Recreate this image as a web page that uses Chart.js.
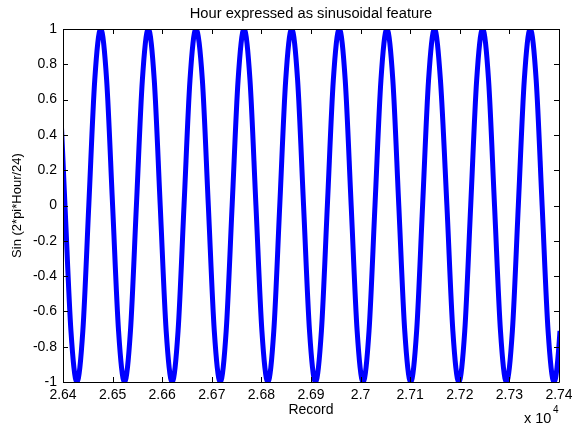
<!DOCTYPE html>
<html>
<head>
<meta charset="utf-8">
<script src="https://cdn.jsdelivr.net/npm/chart.js@4.4.0/dist/chart.umd.min.js"></script>
<style>
    html, body { margin: 0; padding: 0; background: #fff; }
    #wrap { width: 572px; height: 426px; position: relative; }
</style>
</head>
<body>
<div id="wrap"><canvas id="sinChart"></canvas></div>
<script>
// Hour expressed as sinusoidal feature - records 26400 .. 27400

// key points (troughs, crossings, peaks and in between)
const records = [
    26380, 26392, 26404, 26416,
    26428, 26440, 26452, 26464, 26476, 26488, 26500, 26512,
    26524, 26536, 26548, 26560, 26572, 26584, 26596, 26608,
    26620, 26632, 26644, 26656, 26668, 26681, 26693, 26705,
    26717, 26729, 26741, 26753, 26765, 26777, 26789, 26801,
    26813, 26825, 26837, 26849, 26861, 26873, 26885, 26897,
    26909, 26921, 26933, 26945, 26957, 26969, 26981, 26993,
    27005, 27017, 27029, 27041, 27053, 27065, 27077, 27089,
    27101, 27113, 27125, 27137, 27149, 27161, 27174, 27186,
    27198, 27210, 27222, 27234, 27246, 27258, 27270, 27282,
    27294, 27306, 27318, 27330, 27342, 27354, 27366, 27378,
    27390, 27402, 27414
];
const sinHour = [
    1, 0.71, 0, -0.71,
    -1, -0.71, 0, 0.71, 1, 0.71, 0, -0.71,
    -1, -0.71, 0, 0.71, 1, 0.71, 0, -0.71,
    -1, -0.71, 0, 0.71, 1, 0.71, 0, -0.71,
    -1, -0.71, 0, 0.71, 1, 0.71, 0, -0.71,
    -1, -0.71, 0, 0.71, 1, 0.71, 0, -0.71,
    -1, -0.71, 0, 0.71, 1, 0.71, 0, -0.71,
    -1, -0.71, 0, 0.71, 1, 0.71, 0, -0.71,
    -1, -0.71, 0, 0.71, 1, 0.71, 0, -0.71,
    -1, -0.71, 0, 0.71, 1, 0.71, 0, -0.71,
    -1, -0.71, 0, 0.71, 1, 0.71, 0, -0.71,
    -1, -0.71, 0
];

const xTicks = [26400, 26500, 26600, 26700, 26800, 26900, 27000, 27100, 27200, 27300, 27400];
const xTickLabels = ['2.64', '2.65', '2.66', '2.67', '2.68', '2.69', '2.7', '2.71', '2.72', '2.73', '2.74'];
const yTicks = [-1, -0.8, -0.6, -0.4, -0.2, 0, 0.2, 0.4, 0.6, 0.8, 1];
const yTickLabels = ['-1', '-0.8', '-0.6', '-0.4', '-0.2', '0', '0.2', '0.4', '0.6', '0.8', '1'];

const chartTitle = 'Hour expressed as sinusoidal feature';
const xTitle = 'Record';
const yTitle = 'Sin (2*pi*Hour/24)';

const FONT = '"Liberation Sans", Arial, sans-serif';

// MATLAB style box: frame, inward ticks on all sides, title and exponent
const matlabBox = {
    id: 'matlabBox',
    afterDraw(chart) {
        const ctx = chart.ctx;
        const a = chart.chartArea;
        const xs = chart.scales.x;
        const ys = chart.scales.y;
        const tl = 5;
        ctx.save();
        ctx.strokeStyle = '#000';
        ctx.lineWidth = 1;
        ctx.beginPath();
        ctx.rect(Math.round(a.left) + 0.5, Math.round(a.top) + 0.5,
                 Math.round(a.right - a.left), Math.round(a.bottom - a.top));
        xTicks.forEach(v => {
            const px = Math.round(xs.getPixelForValue(v)) + 0.5;
            ctx.moveTo(px, a.bottom); ctx.lineTo(px, a.bottom - tl);
            ctx.moveTo(px, a.top); ctx.lineTo(px, a.top + tl);
        });
        yTicks.forEach(v => {
            const py = Math.round(ys.getPixelForValue(v)) + 0.5;
            ctx.moveTo(a.left, py); ctx.lineTo(a.left + tl, py);
            ctx.moveTo(a.right, py); ctx.lineTo(a.right - tl, py);
        });
        ctx.stroke();

        ctx.fillStyle = '#000';
        ctx.font = '14.7px ' + FONT;
        ctx.textAlign = 'center';
        ctx.textBaseline = 'middle';
        ctx.fillText(chartTitle, (a.left + a.right) / 2, 14);

        // exponent of the x axis
        ctx.font = '14.5px ' + FONT;
        ctx.textAlign = 'left';
        ctx.fillText('x 10', 524, 419);
        ctx.font = '10px ' + FONT;
        ctx.fillText('4', 553, 410);
        ctx.restore();
    }
};

new Chart(document.getElementById('sinChart'), {
    type: 'line',
    data: {
        datasets: [{
            data: records.map((r, i) => ({ x: r, y: sinHour[i] })),
            borderColor: '#0000ff',
            borderWidth: 5,
            pointRadius: 0,
            cubicInterpolationMode: 'monotone',
            fill: false
        }]
    },
    options: {
        responsive: true,
        maintainAspectRatio: false,
        animation: false,
        layout: {
            padding: { top: 29, right: 13, bottom: 0, left: 0 }
        },
        plugins: {
            legend: { display: false },
            title: { display: false },
            tooltip: { enabled: false }
        },
        scales: {
            x: {
                type: 'linear',
                min: 26400,
                max: 27400,
                grid: { display: false, drawTicks: false },
                border: { display: false },
                afterBuildTicks: scale => { scale.ticks = xTicks.map(v => ({ value: v })); },
                afterFit: scale => { scale.height = 44; scale.paddingLeft = 0; scale.paddingRight = 0; },
                ticks: {
                    autoSkip: false,
                    maxRotation: 0,
                    padding: 5,
                    color: '#000',
                    font: { family: FONT, size: 14 },
                    callback: (v, i) => xTickLabels[i]
                },
                title: {
                    display: true,
                    text: xTitle,
                    color: '#000',
                    font: { family: FONT, size: 14 },
                    padding: { top: 0, bottom: 7 }
                }
            },
            y: {
                min: -1,
                max: 1,
                grid: { display: false, drawTicks: false },
                border: { display: false },
                afterBuildTicks: scale => { scale.ticks = yTicks.map(v => ({ value: v })); },
                afterFit: scale => { scale.width = 63; scale.paddingTop = 0; scale.paddingBottom = 0; },
                ticks: {
                    autoSkip: false,
                    padding: 6,
                    color: '#000',
                    font: { family: FONT, size: 14 },
                    callback: (v, i) => yTickLabels[i]
                },
                title: {
                    display: true,
                    text: yTitle,
                    color: '#000',
                    font: { family: FONT, size: 13 },
                    padding: { top: 10, bottom: 0 }
                }
            }
        }
    },
    plugins: [matlabBox]
});
</script>
</body>
</html>
